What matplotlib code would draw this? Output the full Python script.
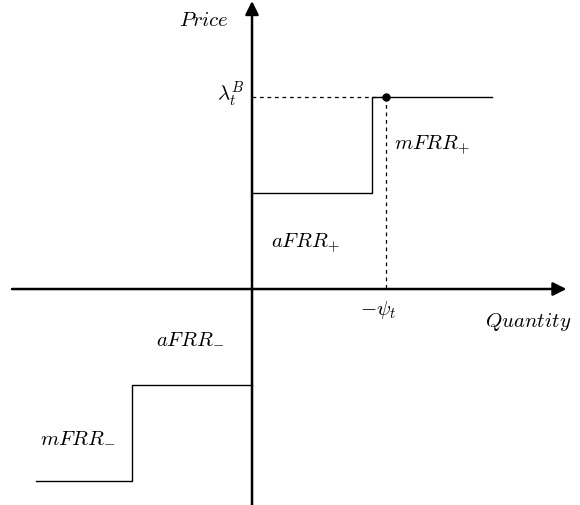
import matplotlib
matplotlib.use("Agg")
import matplotlib.pyplot as plt

plt.rcParams["mathtext.fontset"] = "cm"

# supply curve (positive side) and demand curve (negative side)
up_x = [0, 10, 10, 20]
up_y = [8, 8, 16, 16]
down_x = [0, -10, -10, -18]
down_y = [-8, -8, -16, -16]
lam = 16
psi = 11.15

fig = plt.figure(figsize=(5.8, 5.06), dpi=100)
ax = fig.add_axes([0, 0, 1, 1])
ax.set_xlim(-21, 27.33)
ax.set_ylim(-18, 24.17)
ax.axis("off")

# axes with arrows
ax.annotate("", xy=(26.2, 0), xytext=(-20, 0),
            arrowprops=dict(arrowstyle="-|>", lw=1.8, color="black", mutation_scale=20,
                            shrinkA=0, shrinkB=0))
ax.annotate("", xy=(0, 24.0), xytext=(0, -18),
            arrowprops=dict(arrowstyle="-|>", lw=1.8, color="black", mutation_scale=20,
                            shrinkA=0, shrinkB=0))

ax.plot(up_x, up_y, color="black", lw=1.0)
ax.plot(down_x, down_y, color="black", lw=1.0)

# dashed guides
ax.plot([0, psi], [lam, lam], color="black", lw=0.9, ls=(0, (3, 3)))
ax.plot([psi, psi], [lam, 0], color="black", lw=0.9, ls=(0, (3, 3)))
ax.plot([psi], [lam], "o", color="black", ms=5)

fs = 15
ax.text(-4.0, 22.5, r"$Price$", fontsize=fs, ha="center", va="center")
ax.text(-1.8, 16.3, r"$\lambda_t^B$", fontsize=fs, ha="center", va="center")
ax.text(15, 12.1, r"$mFRR_{+}$", fontsize=fs, ha="center", va="center")
ax.text(4.4, 3.9, r"$aFRR_{+}$", fontsize=fs, ha="center", va="center")
ax.text(10.5, -1.7, r"$-\psi_t$", fontsize=fs, ha="center", va="center")
ax.text(23, -2.7, r"$Quantity$", fontsize=fs, ha="center", va="center")
ax.text(-5.2, -4.0, r"$aFRR_{-}$", fontsize=fs, ha="center", va="center")
ax.text(-14.5, -12.2, r"$mFRR_{-}$", fontsize=fs, ha="center", va="center")

fig.savefig("out.png", dpi=100)
